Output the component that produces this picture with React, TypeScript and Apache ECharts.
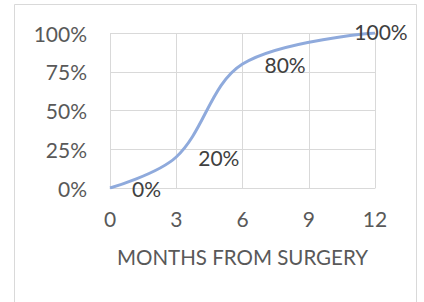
import React, { useEffect, useRef } from "react";
import * as echarts from "echarts";

const months = [0, 3, 6, 12];
const shares = [0, 20, 80, 100];
const pointLabels = ["0%", "20%", "80%", "100%"];
const xTicks = [0, 3, 6, 9, 12];
const yTicks = [0, 25, 50, 75, 100];
const xTitle = "MONTHS FROM SURGERY";

const FONT = "Lato";
const TEXT = "#595959";
const FS = 21;

export default function App() {
  const ref = useRef<HTMLDivElement>(null);
  useEffect(() => {
    const chart = echarts.init(ref.current!, null, { renderer: "svg" });
    const data = months.map((m, i) => {
      const last = i === months.length - 1;
      return {
        value: [m, shares[i]],
        label: last
          ? { show: true, position: "inside", offset: [6, -2], formatter: pointLabels[i] }
          : { show: true, position: "right", distance: 21, formatter: pointLabels[i] },
      };
    });
    chart.setOption({
      animation: false,
      textStyle: { fontFamily: FONT },
      graphic: [
        {
          type: "rect",
          shape: { x: 14.5, y: 4.5, width: 402, height: 320 },
          style: { fill: "#fff", stroke: "#d9d9d9", lineWidth: 1 },
          z: -10,
          silent: true,
        },
      ],
      grid: { left: 110, right: 49, top: 33, bottom: 114 },
      xAxis: {
        type: "value",
        min: xTicks[0],
        max: xTicks[xTicks.length - 1],
        interval: 3,
        name: xTitle,
        nameLocation: "middle",
        nameGap: 58,
        nameTextStyle: { color: TEXT, fontSize: 20.5, fontFamily: FONT },
        axisLine: { lineStyle: { color: "#d9d9d9" } },
        axisTick: { show: false },
        axisLabel: { color: TEXT, fontSize: FS, margin: 20, fontFamily: FONT },
        splitLine: { show: true, lineStyle: { color: "#d9d9d9", width: 1 } },
      },
      yAxis: {
        type: "value",
        min: yTicks[0],
        max: yTicks[yTicks.length - 1],
        interval: 25,
        axisLine: { show: false },
        axisTick: { show: false },
        axisLabel: {
          color: TEXT,
          fontSize: FS,
          margin: 23,
          fontFamily: FONT,
          formatter: (v: number) => v + "%",
        },
        splitLine: { show: true, lineStyle: { color: "#d9d9d9", width: 1 } },
      },
      series: [
        {
          type: "line",
          data,
          smooth: 0.35,
          showSymbol: true,
          symbol: "circle",
          symbolSize: 2,
          itemStyle: { color: "rgba(0,0,0,0)" },
          lineStyle: { color: "#8faadc", width: 3 },
          label: { color: "#404040", fontSize: FS, fontFamily: FONT },
          z: 5,
        },
      ],
    });
    return () => chart.dispose();
  }, []);
  return (
    <div
      ref={ref}
      style={{ position: "fixed", left: 0, top: 0, width: 424, height: 302, background: "#fff" }}
    />
  );
}
